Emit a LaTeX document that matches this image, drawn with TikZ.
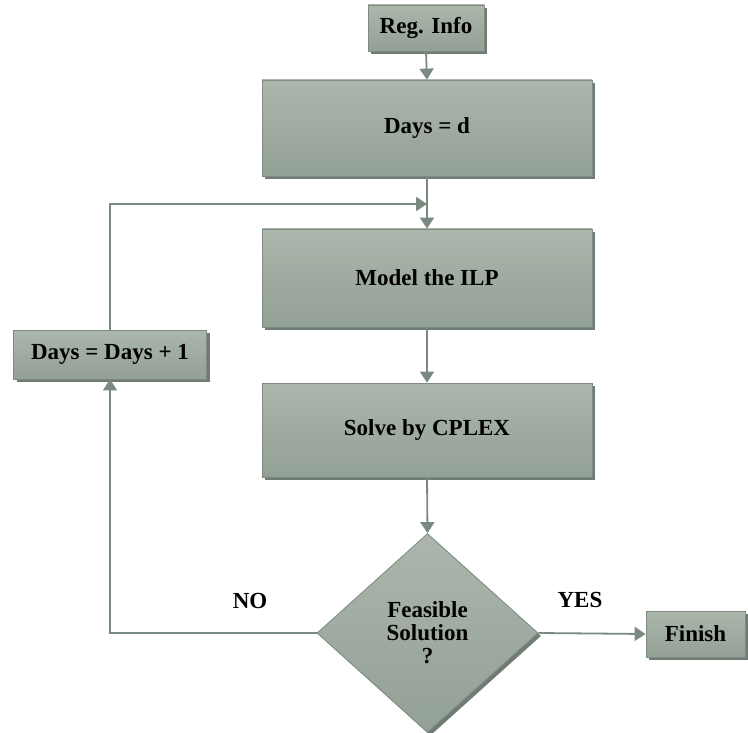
\documentclass[tikz,border=0pt]{standalone}
\usepackage{fontspec}
\setmainfont{Liberation Serif}
\usetikzlibrary{arrows.meta,shapes.geometric,shadows}
\definecolor{topc}{HTML}{ACB6AC}
\definecolor{botc}{HTML}{93A095}
\definecolor{edgec}{HTML}{7D8B82}
\definecolor{shadc}{HTML}{6F7B73}
\definecolor{linec}{HTML}{7A8A80}
\tikzset{
  box/.style={draw=edgec, line width=0.8pt, top color=topc, bottom color=botc,
    drop shadow={shadow xshift=3pt, shadow yshift=-3pt, fill=shadc, opacity=1},
    inner sep=0pt, align=center, font=\fontsize{23}{23}\selectfont\bfseries},
  dia/.style={box, shape=diamond, minimum width=221pt, minimum height=199pt},
  conn/.style={draw=linec, line width=1.8pt, -{Triangle[width=14pt,length=11pt]}},
  lbl/.style={font=\fontsize{23}{23}\selectfont\bfseries, inner sep=0pt}
}
\begin{document}
\begin{tikzpicture}[x=1pt,y=-1pt]
\useasboundingbox (0,0) rectangle (748,733);
\node[box, minimum width=116pt, minimum height=46pt] (reg) at (426,28) {Reg. Info};
\node[box, minimum width=330pt, minimum height=96pt] (dd) at (427,128) {Days = d};
\node[box, minimum width=330pt, minimum height=98pt] (model) at (427,278) {Model the ILP};
\node[box, minimum width=330pt, minimum height=94pt] (solve) at (427,430) {Solve by CPLEX};
\node[dia] (feas) at (427.5,633) {Feasible\\Solution\\?};
\node[box, minimum width=99pt, minimum height=46pt] (fin) at (695.5,634) {Finish};
\node[box, minimum width=193pt, minimum height=49pt] (inc) at (110,354.5) {Days = Days + 1};
\coordinate (j) at (427,204);
\node[lbl] (no) at (250,601) {NO};
\node[lbl] (yes) at (580,600) {YES};
\draw[conn] (reg.south) -- (dd.north);
\draw[conn] (dd.south) -- (model.north);
\draw[conn] (inc.north) |- (j);
\draw[conn] (model.south) -- (solve.north);
\draw[conn] (solve.south) -- (feas.north);
\draw[conn] (feas.east) -- (fin.west);
\draw[conn] (feas.west) -| (inc.south);
\end{tikzpicture}
\end{document}
